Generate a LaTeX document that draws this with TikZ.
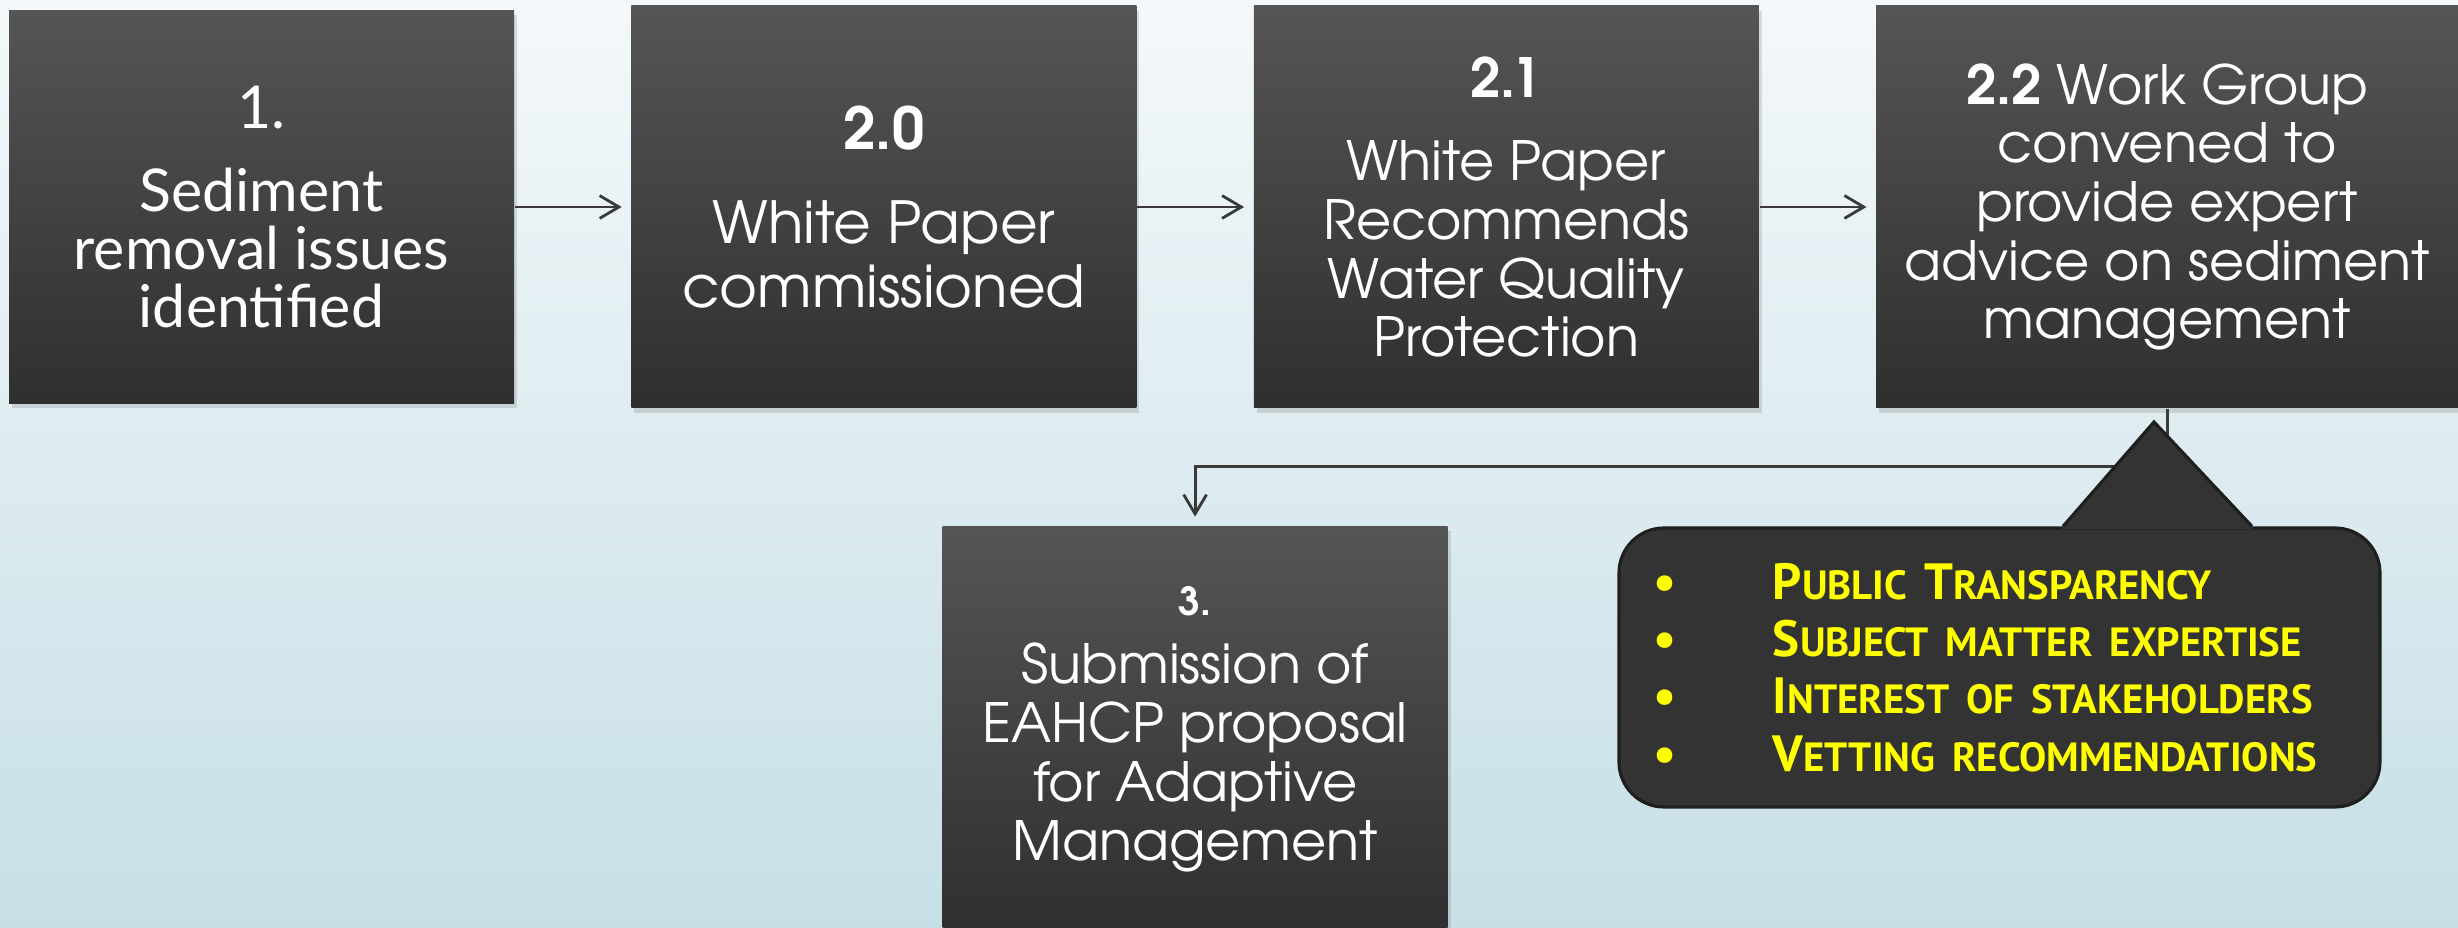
\documentclass[tikz,border=0pt]{standalone}
\usepackage{fontspec}
\setmainfont{texgyreadventor}[Extension=.otf, UprightFont=*-regular, BoldFont=*-bold]
\newfontfamily\gillfont{Lato}
\newfontfamily\notefont{PT Sans}
\usepackage{xcolor}
\usepackage{tikz}
\usetikzlibrary{positioning,calc,shadows,arrows.meta}

\definecolor{boxtop}{HTML}{555555}
\definecolor{boxbot}{HTML}{2F2F2F}
\definecolor{bgtop}{HTML}{F4F8FA}
\definecolor{bgbot}{HTML}{C6DFE6}
\definecolor{notefill}{HTML}{333333}
\definecolor{noteline}{HTML}{1F1F1F}
\definecolor{linkgray}{HTML}{3A3A3A}
\definecolor{noteyellow}{HTML}{FFFF00}

\newcommand{\scword}[2]{#1{\fontsize{11.6}{12}\selectfont\MakeUppercase{#2}}}

\begin{document}
\begin{tikzpicture}[>={Straight Barb[length=5.5pt,width=6.5pt]}, node distance=1.16cm,
  stepbox/.style={rectangle, top color=boxtop, bottom color=boxbot, text=white,
    minimum width=5.05cm, minimum height=4.02cm, align=center, inner sep=0pt,
    drop shadow={shadow xshift=0.03cm, shadow yshift=-0.05cm, opacity=0.25},
    font=\fontsize{15.4}{16.7}\selectfont},
  link/.style={->, draw=linkgray, line width=0.8pt, shorten >=0.09cm},
  notebox/.style={rectangle, rounded corners=0.45cm, fill=notefill, draw=noteline,
    line width=0.9pt, minimum height=2.79cm, text width=6.93cm, inner xsep=0.34cm,
    align=left, text=noteyellow, font=\notefont\bfseries\fontsize{14.5}{16.3}\selectfont}]

\useasboundingbox (0,0) rectangle (24.58,-9.28);
\shade[top color=bgtop, bottom color=bgbot] (0,0) rectangle (24.58,-9.28);

\node [stepbox, minimum height=3.93cm, font=\gillfont\fontsize{16.8}{16.5}\selectfont] (b1) at (2.615,-2.07)
  {1.\\[0.25cm] Sediment\\removal issues\\identified};
\node [stepbox, right=of b1, font=\fontsize{16.5}{18.2}\selectfont] (b2)
  {\textbf{2.0}\\[0.3cm] White Paper\\commissioned};
\node [stepbox, right=of b2] (b3)
  {\textbf{2.1}\\[0.25cm] White Paper\\Recommends\\Water Quality\\Protection};
\node [stepbox, right=of b3, minimum width=5.82cm] (b4)
  {\textbf{2.2} Work Group\\convened to\\provide expert\\advice on sediment\\management};

\coordinate (gap) at ($(b2.south east)!0.5!(b3.south west)$);
\node [stepbox, below=1.17cm of gap, minimum height=4.05cm] (b5)
  {{\bfseries\fontsize{11}{13}\selectfont 3.}\\[0.1cm] Submission of\\EAHCP proposal\\for Adaptive\\Management};

\draw [link] (b1) -- (b2);
\draw [link] (b2) -- (b3);
\draw [link] (b3) -- (b4);
\draw [link] (b4.south) -- ++(0,-0.58) -| (b5.north);

% callout with the work group goals
\node [notebox] (notes) at (19.995,-6.675)
  {\makebox[1.2cm][l]{\textbullet}\scword{P}{ublic} \scword{T}{ransparency}\\
   \makebox[1.2cm][l]{\textbullet}\scword{S}{ubject matter expertise}\\
   \makebox[1.2cm][l]{\textbullet}\scword{I}{nterest of stakeholders}\\
   \makebox[1.2cm][l]{\textbullet}\scword{V}{etting recommendations}};
\coordinate (tip) at (21.54,-4.22);
\fill [notefill] ($(notes.north)+(0.62,-0.03)$) -- ($(notes.north)+(0.635,0)$) -- (tip)
  -- ($(notes.north)+(2.525,0)$) -- ($(notes.north)+(2.54,-0.03)$) -- cycle;
\draw [noteline, line width=0.9pt, line join=miter] ($(notes.north)+(0.635,0)$) -- (tip) -- ($(notes.north)+(2.525,0)$);
\end{tikzpicture}
\end{document}
